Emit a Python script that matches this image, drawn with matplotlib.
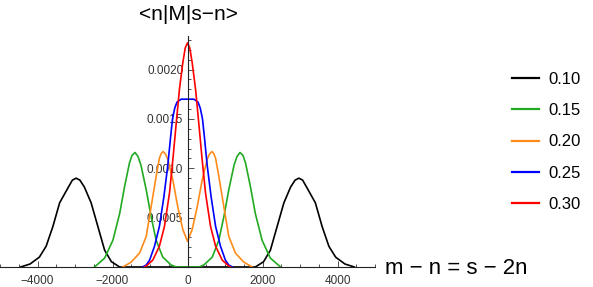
import numpy as np
import matplotlib.pyplot as plt
from matplotlib.ticker import MultipleLocator

plt.rcParams['font.family'] = ['Liberation Sans', 'DejaVu Sans']

# значения
labels = ["0.10", "0.15", "0.20", "0.25", "0.30"]
colors = ["#000000", "#22aa22", "#ff8c1a", "#0000ff", "#ff0000"]

x010 = [-4450, -4200, -3950, -3770, -3590, -3410, -3190, -3070, -2970, -2870, -2750, -2570, -2390, -2210, -2030, -1810,
        1810, 2030, 2210, 2390, 2570, 2750, 2870, 2970, 3070, 3190, 3410, 3590, 3770, 3950, 4200, 4450]
y010 = [0, 0.00003, 0.0001, 0.00021, 0.00041, 0.00065, 0.0008, 0.00088, 0.0009, 0.00088, 0.00081, 0.00065, 0.00041, 0.00017, 0.000054, 0,
        0, 0.000054, 0.00017, 0.00041, 0.00065, 0.00081, 0.00088, 0.0009, 0.00088, 0.0008, 0.00065, 0.00041, 0.00021, 0.0001, 0.00003, 0]

x015 = [-2480, -2210, -1990, -1810, -1680, -1550, -1480, -1400, -1320, -1240, -1100, -970, -835, -660, -435, -300,
        300, 435, 660, 835, 970, 1100, 1240, 1320, 1400, 1480, 1550, 1680, 1810, 1990, 2210, 2480]
y015 = [0, 0.00009, 0.00027, 0.00054, 0.00081, 0.00105, 0.00113, 0.00116, 0.00112, 0.00103, 0.00078, 0.00051, 0.00027, 0.0001, 0.00002, 0,
        0, 0.00002, 0.0001, 0.00027, 0.00051, 0.00078, 0.00103, 0.00112, 0.00116, 0.00113, 0.00105, 0.00081, 0.00054, 0.00027, 0.00009, 0]

x020 = [-1725, -1500, -1280, -1100, -970, -835, -750, -700, -650, -580, -525, -390, -260, -125, 0,
        125, 260, 390, 525, 580, 650, 700, 750, 835, 970, 1100, 1280, 1500, 1725]
y020 = [0, 0.00005, 0.00014, 0.00031, 0.00061, 0.00092, 0.0011, 0.00115, 0.00117, 0.00114, 0.00109, 0.00088, 0.00061, 0.00038, 0.00026,
        0.00038, 0.00061, 0.00088, 0.00109, 0.00114, 0.00117, 0.00115, 0.0011, 0.00092, 0.00061, 0.00031, 0.00014, 0.00005, 0]

x025 = [-1200, -1100, -1010, -880, -750, -630, -525, -450, -400, -340, -280, -170, 0,
        170, 280, 340, 400, 450, 525, 630, 750, 880, 1010, 1100, 1200]
y025 = [0, 0.00002, 0.00007, 0.00021, 0.00041, 0.00071, 0.00103, 0.00132, 0.0015, 0.00161, 0.00167, 0.0017, 0.0017,
        0.0017, 0.00167, 0.00161, 0.0015, 0.00132, 0.00103, 0.00071, 0.00041, 0.00021, 0.00007, 0.00002, 0]

x030 = [-1150, -1100, -925, -750, -615, -480, -390, -300, -215, -125, -60, 0,
        60, 125, 215, 300, 390, 480, 615, 750, 925, 1100, 1150]
y030 = [0, 0.00001, 0.00007, 0.00021, 0.00041, 0.00075, 0.00109, 0.00146, 0.0018, 0.00207, 0.00222, 0.00227,
        0.00222, 0.00207, 0.0018, 0.00146, 0.00109, 0.00075, 0.00041, 0.00021, 0.00007, 0.00001, 0]

xs = [x010, x015, x020, x025, x030]
ys = [y010, y015, y020, y025, y030]

fig = plt.figure(figsize=(5.93, 2.87), dpi=100)
ax = fig.add_axes([0.0, 1 - 267 / 287, 375 / 593, (267 - 36) / 287])

for x, y, c, lab in zip(xs, ys, colors, labels):
    ax.plot(x, y, color=c, lw=1.2, label=lab)

ax.set_xlim(-5000, 5000)
ax.set_ylim(0, 0.00234)

# оси как в Mathematica: пересекаются в нуле
ax.spines['left'].set_position(('data', 0))
ax.spines['top'].set_visible(False)
ax.spines['right'].set_visible(False)
for s in ['left', 'bottom']:
    ax.spines[s].set_linewidth(0.8)
    ax.spines[s].set_color('#222222')

ax.set_xticks([-4000, -2000, 0, 2000, 4000])
ax.set_xticklabels(['−4000', '−2000', '0', '2000', '4000'])
ax.xaxis.set_minor_locator(MultipleLocator(500))
ax.set_yticks([0.0005, 0.0010, 0.0015, 0.0020])
ax.set_yticklabels(['0.0005', '0.0010', '0.0015', '0.0020'])
ax.yaxis.set_minor_locator(MultipleLocator(0.0001))
ax.tick_params(which='both', direction='in', labelsize=8.5, colors='#333333', width=0.6)
ax.tick_params(which='major', length=4)
ax.tick_params(axis='x', which='major', pad=6)
ax.tick_params(axis='y', which='major', pad=3)
ax.tick_params(which='minor', length=2)
ax.patch.set_alpha(0)

fig.text(188 / 593, 1 - 15 / 287, '<n|M|s\u2212n>', fontsize=15, ha='center', va='center')
fig.text(385 / 593, 1 - 268 / 287, 'm \u2212 n = s \u2212 2n', fontsize=16, ha='left', va='center')

leg = fig.legend(loc='center left', bbox_to_anchor=(512 / 593, 1 - 142 / 287), frameon=False,
                 fontsize=12, handlelength=1.6, handletextpad=0.6, labelspacing=0.97,
                 borderpad=0, borderaxespad=0)
for h in leg.get_lines():
    h.set_linewidth(1.6)

fig.savefig('out.png', dpi=100)
